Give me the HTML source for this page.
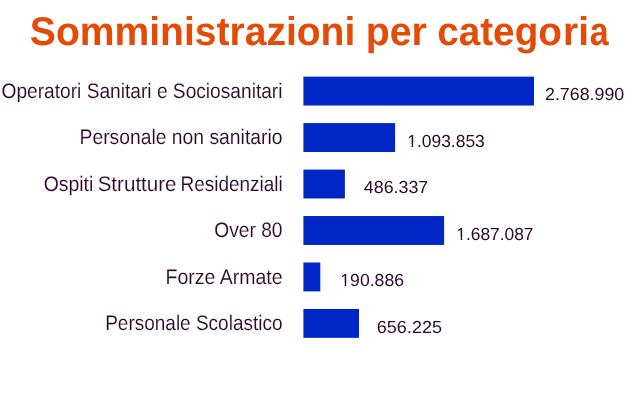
<!DOCTYPE html>
<html><head><meta charset="utf-8"><style>
html,body{margin:0;padding:0;background:#fff;width:638px;height:410px;overflow:hidden}
svg{display:block;will-change:transform;text-rendering:geometricPrecision;font-family:"Liberation Sans",sans-serif}
</style></head><body>
<svg width="638" height="410" viewBox="0 0 638 410">
<text x="29.83" y="45" textLength="325.51" lengthAdjust="spacingAndGlyphs" font-weight="bold" font-size="40" fill="#E34B06">Somministrazioni</text>
<text x="365.68" y="45" textLength="61.18" lengthAdjust="spacingAndGlyphs" font-weight="bold" font-size="40" fill="#E34B06">per</text>
<text x="437.24" y="45" textLength="124.65" lengthAdjust="spacingAndGlyphs" font-weight="bold" font-size="40" fill="#E34B06">catego</text>
<text x="563.11" y="45" textLength="25.86" lengthAdjust="spacingAndGlyphs" font-weight="bold" font-size="40" fill="#E34B06">ri</text>
<text x="589.8" y="45" textLength="18.85" lengthAdjust="spacingAndGlyphs" font-weight="bold" font-size="40" fill="#E34B06">a</text>
<rect x="303.4" y="76.65" width="230.6" height="28.9" fill="#0027C6"/>
<text x="282.5" y="98" text-anchor="end" textLength="281" lengthAdjust="spacingAndGlyphs" font-size="21" fill="#2C0829" stroke="#fff" stroke-width="0.1">Operatori Sanitari e Sociosanitari</text>
<text x="545" y="99.8" textLength="79.2" lengthAdjust="spacingAndGlyphs" font-size="17.4" fill="#2C0829" stroke="#fff" stroke-width="0">2.768.990</text>
<rect x="303.4" y="123.11" width="91.7" height="28.9" fill="#0027C6"/>
<text x="282.5" y="143.8" text-anchor="end" textLength="203" lengthAdjust="spacingAndGlyphs" font-size="21" fill="#2C0829" stroke="#fff" stroke-width="0.1">Personale non sanitario</text>
<text x="407.2" y="147" textLength="77.6" lengthAdjust="spacingAndGlyphs" font-size="17.4" fill="#2C0829" stroke="#fff" stroke-width="0">1.093.853</text>
<rect x="303.4" y="169.57" width="41.5" height="28.9" fill="#0027C6"/>
<text x="43.67" y="190.7" textLength="49.63" lengthAdjust="spacingAndGlyphs" font-size="21" fill="#2C0829" stroke="#fff" stroke-width="0.1">Ospiti</text>
<text x="97.63" y="190.7" textLength="78.96" lengthAdjust="spacingAndGlyphs" font-size="21" fill="#2C0829" stroke="#fff" stroke-width="0.1">Strutture</text>
<text x="180.57" y="190.7" textLength="102.22" lengthAdjust="spacingAndGlyphs" font-size="21" fill="#2C0829" stroke="#fff" stroke-width="0.1">Residenziali</text>
<text x="363.8" y="192.8" textLength="64.5" lengthAdjust="spacingAndGlyphs" font-size="17.4" fill="#2C0829" stroke="#fff" stroke-width="0">486.337</text>
<rect x="303.4" y="216.03" width="140.7" height="28.9" fill="#0027C6"/>
<text x="282.5" y="236.8" text-anchor="end" textLength="68.2" lengthAdjust="spacingAndGlyphs" font-size="21" fill="#2C0829" stroke="#fff" stroke-width="0.1">Over 80</text>
<text x="456.3" y="239.8" textLength="77.2" lengthAdjust="spacingAndGlyphs" font-size="17.4" fill="#2C0829" stroke="#fff" stroke-width="0">1.687.087</text>
<rect x="303.4" y="262.49" width="16.9" height="28.9" fill="#0027C6"/>
<text x="282.5" y="283.9" text-anchor="end" textLength="117" lengthAdjust="spacingAndGlyphs" font-size="21" fill="#2C0829" stroke="#fff" stroke-width="0.1">Forze Armate</text>
<text x="340.3" y="286" textLength="63.7" lengthAdjust="spacingAndGlyphs" font-size="17.4" fill="#2C0829" stroke="#fff" stroke-width="0">190.886</text>
<rect x="303.4" y="308.95" width="55.6" height="28.9" fill="#0027C6"/>
<text x="282.5" y="329.5" text-anchor="end" textLength="177.3" lengthAdjust="spacingAndGlyphs" font-size="21" fill="#2C0829" stroke="#fff" stroke-width="0.1">Personale Scolastico</text>
<text x="376.8" y="333.3" textLength="65.2" lengthAdjust="spacingAndGlyphs" font-size="17.4" fill="#2C0829" stroke="#fff" stroke-width="0">656.225</text>
<rect x="407.97" y="144.50" width="3.59" height="3.70" fill="#fff"/>
<rect x="413.15" y="144.50" width="3.50" height="3.70" fill="#fff"/>
<rect x="457.06" y="237.30" width="3.58" height="3.70" fill="#fff"/>
<rect x="462.22" y="237.30" width="3.48" height="3.70" fill="#fff"/>
<rect x="341.07" y="283.50" width="3.63" height="3.70" fill="#fff"/>
<rect x="346.31" y="283.50" width="3.54" height="3.70" fill="#fff"/>
</svg>
</body></html>
